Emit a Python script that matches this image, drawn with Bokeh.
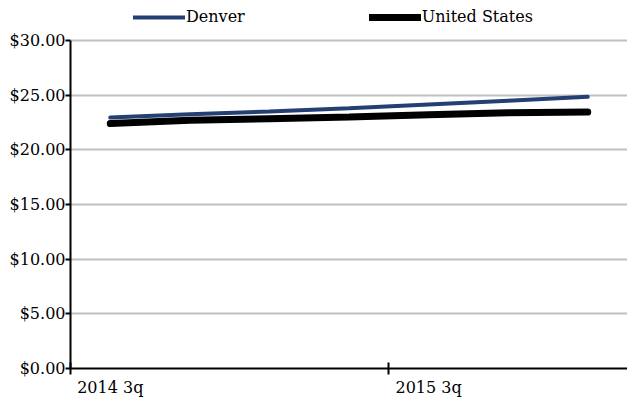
from bokeh.plotting import figure
from bokeh.models import (ColumnDataSource, FixedTicker, NumeralTickFormatter,
                          Legend, LegendItem, Range1d)
from bokeh.embed import file_html
from bokeh.resources import INLINE

quarters = ["2014 3q", "2014 4q", "2015 1q", "2015 2q", "2015 3q", "2015 4q", "2016 1q"]
denver = [22.95, 23.25, 23.5, 23.8, 24.15, 24.5, 24.85]
united_states = [22.4, 22.7, 22.85, 23.0, 23.2, 23.4, 23.45]
tick_labels = {0: "2014 3q", 4: "2015 3q"}
y_ticks = [0, 5, 10, 15, 20, 25, 30]

FONT = "DejaVu Serif"
FS = "16px"

# layout: frame spans from top of canvas; the $30 line sits 40px below it
FRAME_H = 368
TOP_GAP = 40
y_max = y_ticks[-1] * FRAME_H / (FRAME_H - TOP_GAP)

xs = [i + 0.5 for i in range(len(quarters))]
src = ColumnDataSource(dict(x=xs, denver=denver, us=united_states, q=quarters))

p = figure(width=627, height=400, output_backend="svg", toolbar_location=None,
           x_range=Range1d(0, len(quarters)), y_range=Range1d(0, y_max),
           min_border_left=70, min_border_right=0, min_border_top=0,
           min_border_bottom=32)
p.outline_line_color = None
p.background_fill_color = "white"

r_den = p.line("x", "denver", source=src, line_color="#243F73", line_width=4,
               line_cap="round")
r_us = p.line("x", "us", source=src, line_color="#000000", line_width=7,
              line_cap="round")

# x axis: labels at category centres, ticks at category boundaries
xt = FixedTicker(ticks=[k + 0.5 for k in tick_labels], minor_ticks=list(tick_labels))
p.xaxis.ticker = xt
p.xaxis.major_label_overrides = {k + 0.5: v for k, v in tick_labels.items()}
p.xaxis.major_tick_line_color = None
p.xaxis.major_tick_in = 0
p.xaxis.major_tick_out = 0
p.xaxis.minor_tick_in = 6
p.xaxis.minor_tick_out = 6
p.xaxis.minor_tick_line_width = 2
p.xaxis.minor_tick_line_color = "black"
p.xaxis.axis_line_width = 2
p.xaxis.axis_line_color = "black"
p.xaxis.major_label_standoff = 3
p.xaxis.major_label_text_font = FONT
p.xaxis.major_label_text_font_size = FS
p.xaxis.major_label_text_color = "black"
p.xgrid.grid_line_color = None

p.yaxis.ticker = FixedTicker(ticks=y_ticks)
p.yaxis.bounds = (y_ticks[0], y_ticks[-1])
p.yaxis.formatter = NumeralTickFormatter(format="$0.00")
p.yaxis.major_tick_in = 0
p.yaxis.major_tick_out = 5
p.yaxis.major_tick_line_width = 2
p.yaxis.minor_tick_line_color = None
p.yaxis.axis_line_width = 2
p.yaxis.axis_line_color = "black"
p.yaxis.major_label_standoff = 0
p.yaxis.major_label_text_font = FONT
p.yaxis.major_label_text_font_size = FS
p.yaxis.major_label_text_color = "black"
p.ygrid.grid_line_color = "#C0C0C0"
p.ygrid.grid_line_width = 2

legend = Legend(items=[LegendItem(label="Denver", renderers=[r_den]),
                       LegendItem(label="United States", renderers=[r_us])],
                orientation="horizontal", location=(63, FRAME_H - 26),
                glyph_width=52, glyph_height=16, label_height=16,
                label_standoff=1, spacing=124,
                padding=0, margin=0, border_line_color=None,
                background_fill_alpha=0,
                label_text_font=FONT, label_text_font_size=FS,
                label_text_color="black")
p.add_layout(legend, "center")

open("out.html", "w").write(file_html(p, INLINE))
